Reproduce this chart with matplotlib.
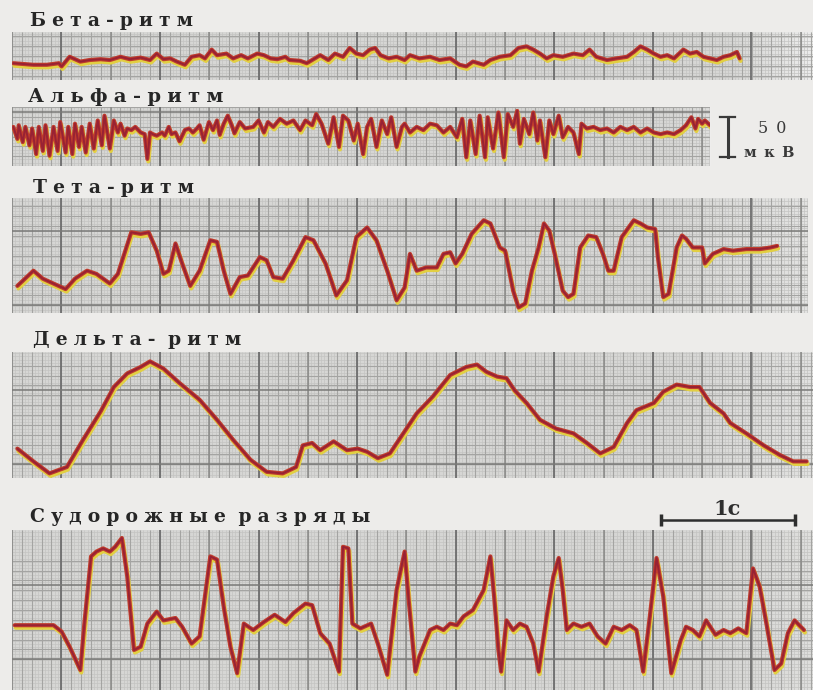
import numpy as np
import matplotlib.pyplot as plt
from matplotlib.transforms import offset_copy

plt.rcParams['font.family'] = ['DejaVu Serif', 'DejaVu Sans']

# EEG traces: time in seconds, amplitude in microvolts
beta_t = [0.01, 0.16, 0.26, 0.35, 0.37, 0.43, 0.51, 0.58, 0.66, 0.73,
          0.81, 0.88, 0.96, 1.03, 1.08, 1.13, 1.18, 1.23, 1.29, 1.34,
          1.40, 1.44, 1.49, 1.53, 1.60, 1.65, 1.71, 1.76, 1.83, 1.88,
          1.93, 1.98, 2.04, 2.07, 2.15, 2.20, 2.26, 2.30, 2.36, 2.41,
          2.47, 2.52, 2.57, 2.62, 2.67, 2.71, 2.75, 2.81, 2.87, 2.93,
          2.97, 3.04, 3.12, 3.19, 3.27, 3.34, 3.39, 3.44, 3.52, 3.57,
          3.64, 3.72, 3.78, 3.84, 3.89, 3.94, 3.99, 4.04, 4.11, 4.19,
          4.26, 4.31, 4.36, 4.44, 4.51, 4.59, 4.64, 4.69, 4.74, 4.79,
          4.84, 4.89, 4.94, 5.01, 5.06, 5.11, 5.16, 5.21, 5.26, 5.31,
          5.36, 5.41, 5.43]
beta_v = [-9, -11, -11, -9, -13, -1, -7, -5, -4, -5,
          -1, -4, -2, -5, 3, -4, -3, -7, -11, -1,
          1, -3, 8, 1, 3, -3, 1, -3, 3, 1,
          -3, -4, -1, -5, -6, -9, -3, 1, -5, 3,
          -1, 10, 3, 1, 8, 10, 1, -3, -1, -5,
          1, -3, -1, -5, -3, -11, -13, -7, -11, -5,
          -1, 1, 10, 12, 8, 3, -3, 1, -1, 3,
          1, 8, -1, -5, -3, -1, 5, 12, 8, 3,
          -1, 1, -3, 8, 3, 5, -1, -3, -5, -1,
          1, 5, -3]

alpha_t = [0.01, 0.04, 0.05, 0.08, 0.10, 0.13, 0.15, 0.18, 0.20, 0.23,
           0.25, 0.28, 0.31, 0.34, 0.36, 0.40, 0.42, 0.45, 0.47, 0.50,
           0.52, 0.55, 0.58, 0.61, 0.64, 0.67, 0.69, 0.73, 0.76, 0.79,
           0.81, 0.84, 0.86, 0.89, 0.92, 0.96, 0.99, 1.01, 1.03, 1.05,
           1.08, 1.12, 1.14, 1.17, 1.19, 1.22, 1.25, 1.29, 1.32, 1.35,
           1.38, 1.40, 1.43, 1.47, 1.50, 1.53, 1.55, 1.58, 1.61, 1.64,
           1.66, 1.70, 1.74, 1.80, 1.84, 1.88, 1.91, 1.95, 2.00, 2.05,
           2.10, 2.15, 2.19, 2.24, 2.27, 2.31, 2.36, 2.40, 2.44, 2.47,
           2.51, 2.55, 2.58, 2.62, 2.65, 2.68, 2.72, 2.76, 2.80, 2.83,
           2.87, 2.91, 2.93, 2.97, 3.02, 3.07, 3.12, 3.17, 3.22, 3.27,
           3.32, 3.36, 3.39, 3.42, 3.46, 3.49, 3.53, 3.55, 3.59, 3.63,
           3.67, 3.70, 3.74, 3.77, 3.79, 3.82, 3.86, 3.89, 3.92, 3.94,
           3.98, 4.01, 4.04, 4.08, 4.11, 4.15, 4.19, 4.23, 4.25, 4.29,
           4.34, 4.39, 4.44, 4.49, 4.54, 4.59, 4.64, 4.69, 4.74, 4.79,
           4.84, 4.89, 4.94, 4.99, 5.03, 5.07, 5.10, 5.12, 5.15, 5.17,
           5.21]
alpha_v = [12, -3, 14, -7, 12, -11, 10, -22, 12, -18,
           14, -24, 12, -18, 18, -20, 12, -22, 16, -13,
           12, -20, 16, -15, 20, -11, 26, -15, 20, 5,
           16, 1, 10, 8, 12, 5, 3, -28, 5, 3,
           1, 5, 1, 12, 3, 5, -6, 8, 10, 5,
           10, 14, -4, 18, 8, 20, 2, 16, 26, 14,
           4, 18, 10, 12, 20, 5, 18, 12, 22, 16,
           20, 8, 20, 14, 28, 16, -9, 24, -13, 26,
           20, -5, 16, -22, 12, 22, -13, 20, 3, 24,
           -13, 12, 16, 5, 12, 8, 16, 14, 5, 12,
           -1, 22, -26, 20, -22, 26, -26, 24, -15, 30,
           -26, 28, 12, 32, -9, 22, 3, 30, -5, 20,
           -26, 20, 3, 26, -1, 12, 5, -22, 16, 10,
           12, 8, 10, 5, 12, 8, 12, 5, 10, 5,
           3, 5, 3, 8, 14, 24, 10, 22, 16, 20,
           14]

theta_t = [0.04, 0.16, 0.23, 0.40, 0.47, 0.56, 0.63, 0.73, 0.79, 0.89,
           0.96, 1.02, 1.08, 1.13, 1.17, 1.22, 1.27, 1.33, 1.40, 1.48,
           1.53, 1.58, 1.63, 1.70, 1.76, 1.85, 1.90, 1.95, 2.02, 2.10,
           2.19, 2.25, 2.34, 2.42, 2.50, 2.57, 2.65, 2.72, 2.80, 2.87,
           2.93, 2.97, 3.02, 3.09, 3.17, 3.22, 3.27, 3.31, 3.36, 3.43,
           3.52, 3.57, 3.64, 3.68, 3.74, 3.78, 3.83, 3.88, 3.93, 3.97,
           4.01, 4.05, 4.11, 4.15, 4.19, 4.24, 4.30, 4.36, 4.41, 4.45,
           4.49, 4.55, 4.64, 4.69, 4.74, 4.80, 4.82, 4.86, 4.90, 4.96,
           5.00, 5.03, 5.08, 5.15, 5.17, 5.23, 5.31, 5.38, 5.48, 5.58,
           5.66, 5.71]
theta_v = [-38, -19, -29, -42, -29, -19, -23, -35, -23, 29,
           27, 29, 6, -23, -19, 15, -10, -38, -19, 19,
           17, -19, -48, -27, -25, -2, -6, -27, -29, -6,
           23, 19, -10, -50, -31, 23, 35, 19, -19, -56,
           -40, 2, -19, -15, -15, 2, 4, -10, 2, 27,
           44, 40, 10, 6, -44, -65, -60, -19, 10, 40,
           31, 2, -44, -52, -48, 10, 25, 23, 2, -19,
           -19, 23, 44, 40, 35, 33, -2, -52, -48, 10,
           25, 21, 10, 10, -10, 2, 8, 6, 8, 8,
           10, 12]

delta_t = [0.04, 0.16, 0.28, 0.41, 0.53, 0.66, 0.76, 0.86, 0.96, 1.03,
           1.13, 1.25, 1.40, 1.53, 1.65, 1.78, 1.90, 2.02, 2.12, 2.17,
           2.24, 2.30, 2.40, 2.50, 2.58, 2.65, 2.73, 2.82, 2.92, 3.02,
           3.14, 3.27, 3.39, 3.47, 3.54, 3.62, 3.69, 3.75, 3.84, 3.94,
           4.06, 4.19, 4.29, 4.39, 4.49, 4.59, 4.66, 4.79, 4.86, 4.96,
           5.06, 5.13, 5.21, 5.31, 5.36, 5.48, 5.61, 5.73, 5.83, 5.93]
delta_v = [-42, -58, -73, -65, -31, 4, 35, 52, 60, 67,
           58, 40, 19, -6, -31, -56, -71, -73, -65, -38,
           -35, -44, -33, -44, -42, -46, -54, -48, -23, 2,
           23, 50, 60, 63, 54, 48, 46, 31, 15, -6,
           -17, -23, -35, -48, -40, -10, 6, 15, 29, 38,
           35, 35, 15, 2, -10, -23, -38, -50, -58, -58]

seiz_t = [0.02, 0.16, 0.31, 0.37, 0.43, 0.51, 0.54, 0.59, 0.63, 0.68,
          0.73, 0.77, 0.82, 0.86, 0.91, 0.96, 1.01, 1.08, 1.13, 1.22,
          1.27, 1.34, 1.40, 1.48, 1.53, 1.58, 1.63, 1.68, 1.73, 1.80,
          1.88, 1.96, 2.04, 2.10, 2.19, 2.24, 2.30, 2.37, 2.44, 2.47,
          2.51, 2.54, 2.60, 2.68, 2.73, 2.80, 2.87, 2.93, 2.96, 3.01,
          3.04, 3.12, 3.17, 3.22, 3.27, 3.32, 3.37, 3.44, 3.52, 3.57,
          3.60, 3.63, 3.65, 3.69, 3.74, 3.79, 3.84, 3.89, 3.93, 3.99,
          4.04, 4.08, 4.11, 4.14, 4.19, 4.25, 4.31, 4.37, 4.43, 4.49,
          4.55, 4.61, 4.66, 4.71, 4.76, 4.81, 4.86, 4.92, 4.99, 5.03,
          5.08, 5.13, 5.18, 5.25, 5.31, 5.36, 5.42, 5.48, 5.53, 5.58,
          5.63, 5.69, 5.74, 5.79, 5.84, 5.91]
seiz_v = [-19, -19, -19, -27, -46, -75, -17, 67, 73, 77,
          73, 79, 90, 42, -50, -46, -17, -2, -13, -10,
          -21, -42, -33, 67, 63, 4, -46, -79, -17, -25,
          -15, -6, -15, -4, 8, 6, -29, -42, -77, 79,
          77, -17, -23, -17, -42, -81, 25, 73, 13, -77,
          -58, -25, -21, -25, -17, -19, -8, 0, 25, 67,
          13, -50, -77, -13, -25, -17, -21, -42, -77, -8,
          42, 65, 25, -25, -17, -21, -17, -33, -42, -21,
          -25, -19, -25, -77, -8, 65, 17, -79, -38, -21,
          -25, -33, -13, -31, -25, -29, -23, -29, 52, 29,
          -17, -75, -67, -29, -13, -25]

labels = ['Бета-ритм', 'Альфа-ритм', 'Тета-ритм', 'Дельта- ритм',
          'Судорожные разряды']

W, H = 813, 690
PX_S = 134.0    # paper speed, px per second
PX_UV = 0.8     # gain, px per microvolt

fig = plt.figure(figsize=(W / 100, H / 100), dpi=100)
fig.patch.set_facecolor('#edecea')


def spaced(s, gap='\u2004'):
    # letter-spaced setting, as in the printed captions
    return (gap + ' ').join(gap.join(w) for w in s.split(' '))


def paper(box, fade_from=None, fade=0.0):
    l, t, r, b = box
    ax = fig.add_axes([l / W, 1 - b / H, (r - l) / W, (b - t) / H])
    xmax = (r - l) / PX_S
    half = (b - t) / 2 / PX_UV
    ax.set_xlim(0, xmax)
    ax.set_ylim(-half, half)
    ax.set_facecolor('#d6d6d4')
    for s in ax.spines.values():
        s.set_visible(False)
    ax.set_xticks([])
    ax.set_yticks([])
    # chart paper: fine, minor and major rulings
    sx = 9.86 / PX_S
    sy = 9.86 / PX_UV
    ax.vlines(np.arange(0, xmax, sx / 3), -half, half, color='#c4c4c2', lw=0.5)
    ax.hlines(np.arange(-half, half, sy / 3), 0, xmax, color='#c4c4c2', lw=0.5)
    ax.vlines(np.arange(0, xmax, sx), -half, half, color='#a4a4a2', lw=0.8)
    ax.hlines(np.arange(-5, 6) * sy, 0, xmax, color='#a4a4a2', lw=0.8)
    ax.vlines(np.arange(sx * 5, xmax, sx * 10), -half, half, color='#6e6e6e', lw=1.3)
    ax.vlines(np.arange(0, xmax, sx * 10), -half, half, color='#8a8a88', lw=1.1)
    ax.hlines([-sy * 5, sy * 2.5], 0, xmax, color='#7a7a78', lw=1.1)
    if fade_from is not None:
        # paper washes out towards the right margin
        ramp = np.zeros((1, 64, 4))
        ramp[..., :3] = 0.95
        ramp[0, :, 3] = np.linspace(0, fade, 64)
        ax.imshow(ramp, extent=[fade_from, xmax, -half, half], aspect='auto',
                  zorder=1.5, interpolation='bilinear')
        ax.set_xlim(0, xmax)
        ax.set_ylim(-half, half)
    return ax


def trace(ax, t, v):
    shade = offset_copy(ax.transData, fig=fig, x=1.0, y=-2.5, units='dots')
    kw = dict(solid_joinstyle='round', solid_capstyle='round', zorder=3)
    ax.plot(t, v, color='#e2cf42', lw=3.0, transform=shade, **kw)
    ax.plot(t, v, color='#c03d2c', lw=3.0, **kw)
    ax.plot(t, v, color='#982234', lw=1.4, **kw)


boxes = [(12, 32, 813, 80), (12, 107, 710, 166), (12, 198, 808, 313),
         (12, 352, 813, 478), (12, 530, 813, 690)]
fades = [(5.35, 0.8), (4.9, 0.3), (4.8, 0.45), (4.9, 0.4), (5.2, 0.3)]
series = [(beta_t, beta_v), (alpha_t, alpha_v), (theta_t, theta_v),
          (delta_t, delta_v), (seiz_t, seiz_v)]
label_pos = [(30, 26, 13.5), (28, 102, 14), (33, 193, 13.5),
             (33, 345, 13.5), (30, 522, 13.5)]

axes = []
for box, (f0, fa), (t, v) in zip(boxes, fades, series):
    ax = paper(box, f0, fa)
    trace(ax, t, v)
    axes.append(ax)

for text, (x, y, fs) in zip(labels, label_pos):
    fig.text(x / W, 1 - y / H, spaced(text), fontsize=fs, color='#262626',
             fontweight='bold', va='baseline', ha='left')

# 50 uV calibration next to the alpha strip
ax_a = axes[1]
bar_x = 5.34
ax_a.plot([bar_x, bar_x], [-25, 25], color='#3a3a3a', lw=2.2, clip_on=False)
for y in (-25, 25):
    ax_a.plot([bar_x - 0.055, bar_x + 0.055], [y, y], color='#3a3a3a',
              lw=1.6, clip_on=False)
fig.text(758 / W, 1 - 133 / H, spaced('50', '\u2002'), fontsize=11.5,
         color='#3a3a3a', va='baseline')
fig.text(744 / W, 1 - 157 / H, spaced('мкВ', '\u2002'), fontsize=10.5,
         color='#3a3a3a', fontweight='bold', va='baseline')

# 1 s time mark above the seizure strip
ax_s = axes[4]
ax_s.plot([4.84, 5.84], [112, 112], color='#2e2e2e', lw=1.8, marker='|',
          ms=9, mew=2.5, clip_on=False)
fig.text(727 / W, 1 - 515 / H, '1с', fontsize=15, color='#2e2e2e',
         fontweight='bold', va='baseline', ha='center')

fig.savefig('out.png', dpi=100, facecolor=fig.get_facecolor())
